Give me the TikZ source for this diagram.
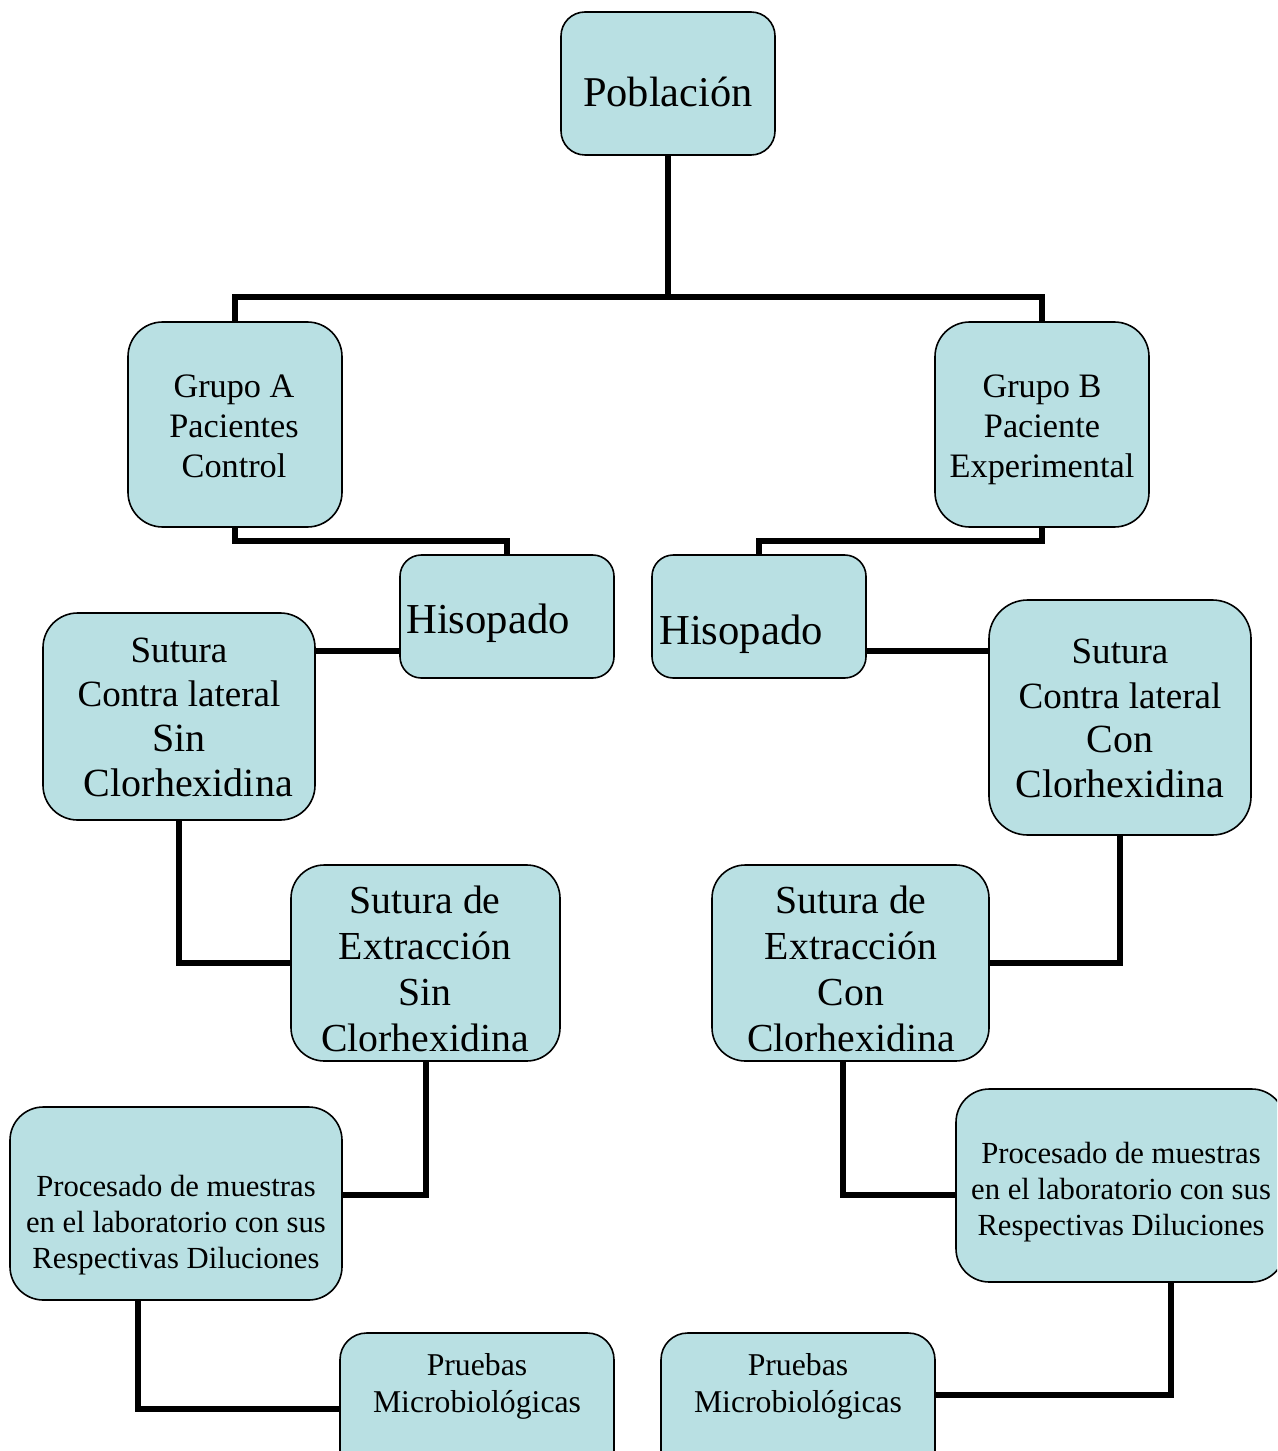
\documentclass[tikz,border=0pt]{standalone}
\usepackage{fontspec}
\setmainfont{Liberation Serif}
\definecolor{boxfill}{RGB}{185,224,227}
\begin{document}
\begin{tikzpicture}[x=0.75pt,y=-0.75pt,
  box/.style n args={3}{draw=black, line width=1.2pt, fill=boxfill,
    rounded corners=#3, minimum width=#1, minimum height=#2, inner sep=0pt, outer sep=0pt},
  txt/.style={align=center, inner sep=0pt, text=black},
  conn/.style={line width=4.5pt, draw=black, line join=miter}]
\clip (0,0) rectangle (1277,1451);
% boxes
\node[box={160.5pt}{107.25pt}{18pt}] (pob) at (668,83.5) {};
\node[box={160.5pt}{153.75pt}{26pt}] (ga) at (235,424.5) {};
\node[box={160.5pt}{153.75pt}{26pt}] (gb) at (1042,424.5) {};
\node[box={160.5pt}{92.25pt}{16pt}] (hl) at (507,616.5) {};
\node[box={160.5pt}{92.25pt}{16pt}] (hr) at (759,616.5) {};
\node[box={204pt}{155.25pt}{26pt}] (sl) at (179,716.5) {};
\node[box={196.5pt}{176.25pt}{29pt}] (sr) at (1120,717.5) {};
\node[box={201.75pt}{147pt}{25pt}] (el) at (425.5,963) {};
\node[box={207.75pt}{147pt}{25pt}] (er) at (850.5,963) {};
\node[box={249pt}{144.75pt}{25pt}] (pl) at (176,1203.5) {};
\node[box={246.75pt}{144.75pt}{25pt}] (pr) at (1120.5,1185.5) {};
\node[box={205.5pt}{114pt}{20pt}] (ql) at (477,1409) {};
\node[box={205.5pt}{114pt}{20pt}] (qr) at (798,1409) {};
% texts
\node[txt, font=\fontsize{31.8}{38}\selectfont] (tpob) at (668,92) {Población};
\node[txt, font=\fontsize{25.7}{30}\selectfont] (tga) at (234,426) {Grupo A\\Pacientes\\Control};
\node[txt, font=\fontsize{25.7}{30}\selectfont] (tgb) at (1042,430) {Grupo B\\Paciente\\Experimental};
\node[txt, anchor=west, font=\fontsize{32}{38}\selectfont] (thl) at (406,623) {Hisopado};
\node[txt, anchor=west, font=\fontsize{32}{38}\selectfont] (thr) at (659,634) {Hisopado};
\node[txt, font=\fontsize{27.8}{33.5}\selectfont] (tsl) at (179,717) {Sutura\\Contra lateral\\{\fontsize{30}{34.5}\selectfont Sin}\\{\fontsize{30}{34.5}\selectfont\hspace{14pt}Clorhexidina}};
\node[txt, font=\fontsize{27.8}{33.5}\selectfont] (tsr) at (1120,718.5) {Sutura\\Contra lateral\\{\fontsize{30}{34.5}\selectfont Con}\\{\fontsize{30}{34.5}\selectfont Clorhexidina}};
\node[txt, font=\fontsize{29.8}{34.5}\selectfont] (tel) at (425,969) {Sutura de\\Extracción\\Sin\\Clorhexidina};
\node[txt, font=\fontsize{29.8}{34.5}\selectfont] (ter) at (851,969) {Sutura de\\Extracción\\Con\\Clorhexidina};
\node[txt, font=\fontsize{23}{27}\selectfont] (tpl) at (176,1225) {Procesado de muestras\\en el laboratorio con sus\\Respectivas Diluciones};
\node[txt, font=\fontsize{23}{27}\selectfont] (tpr) at (1121,1192) {Procesado de muestras\\en el laboratorio con sus\\Respectivas Diluciones};
\node[txt, font=\fontsize{23.8}{27.75}\selectfont] (tql) at (477,1386.5) {Pruebas\\Microbiológicas};
\node[txt, font=\fontsize{23.8}{27.75}\selectfont] (tqr) at (798,1386.5) {Pruebas\\Microbiológicas};
% connectors
\draw[conn] (pob.south) -- ++(0,142) coordinate (j);
\draw[conn] (ga.north) |- (j) -| (gb.north);
\draw[conn] (ga.south) -- ++(0,14) -| (hl.north);
\draw[conn] (gb.south) -- ++(0,14) -| (hr.north);
\path ([yshift=-25.9pt]hl.west) coordinate (a1) ([yshift=-25.9pt]hr.east) coordinate (a2);
\draw[conn] (a1) -- (a1 -| sl.east);
\draw[conn] (a2) -- (a2 -| sr.west);
\draw[conn] (sl.south) |- (el.west);
\draw[conn] (sr.south) |- (er.east);
\draw[conn] (el.south) |- ([yshift=6.4pt]pl.east);
\draw[conn] ([xshift=-5.6pt]er.south) |- ([yshift=-7.1pt]pr.west);
\draw[conn] ([xshift=-28.5pt]pl.south) |- (ql.west);
\draw[conn] ([xshift=37.9pt]pr.south) |- ([yshift=10.5pt]qr.east);
\end{tikzpicture}
\end{document}
